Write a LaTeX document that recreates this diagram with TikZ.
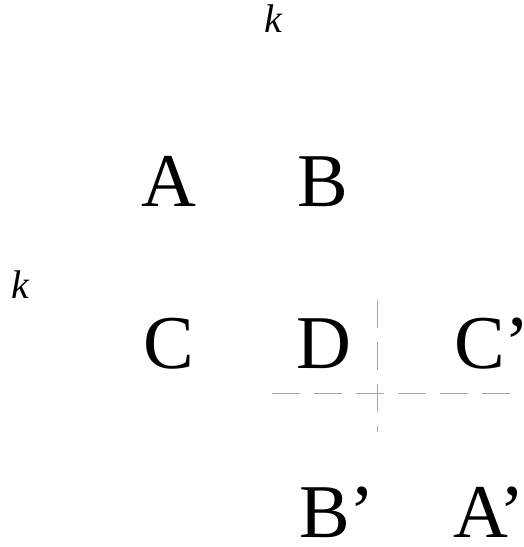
\documentclass[tikz,border=0pt]{standalone}
\usepackage{fontspec}
\setmainfont{Liberation Serif}
\begin{document}
\begin{tikzpicture}[x=1pt,y=-1pt,
	every node/.style = {anchor=base west, inner sep=0pt, outer sep=0pt},
	letter/.style = {font=\fontsize{76}{80}\selectfont},
	axislabel/.style = {font=\fontsize{40}{44}\selectfont\itshape},
	guide/.style = {draw=gray!70, line width=0.5pt, dash pattern=on 28pt off 14pt}]
	\useasboundingbox (0,0) rectangle (523,547);
	% labels of the two axes
	\node[axislabel] (ktop) at (264,32) {k};
	\node[axislabel] (kleft) at (12,298) {k};
	% first block
	\node[letter] (A) at (141,206) {A};
	\node[letter] (B) at (297,206) {B};
	\node[letter] (C) at (143,368) {C};
	\node[letter] (D) at (296,368) {D};
	% mirrored block
	\node[letter] (Cp) at (454,368) {C'};
	\node[letter] (Bp) at (299,537) {B'};
	\node[letter] (Ap) at (453,537) {A'};
	% guide lines
	\coordinate (vtop) at (377,300);
	\coordinate (vbot) at (377,432);
	\coordinate (hleft) at (272,393);
	\coordinate (hright) at (523,393);
	\draw[guide] (vtop) -- (vbot);
	\draw[guide] (hleft) -- (hright);
\end{tikzpicture}
\end{document}
